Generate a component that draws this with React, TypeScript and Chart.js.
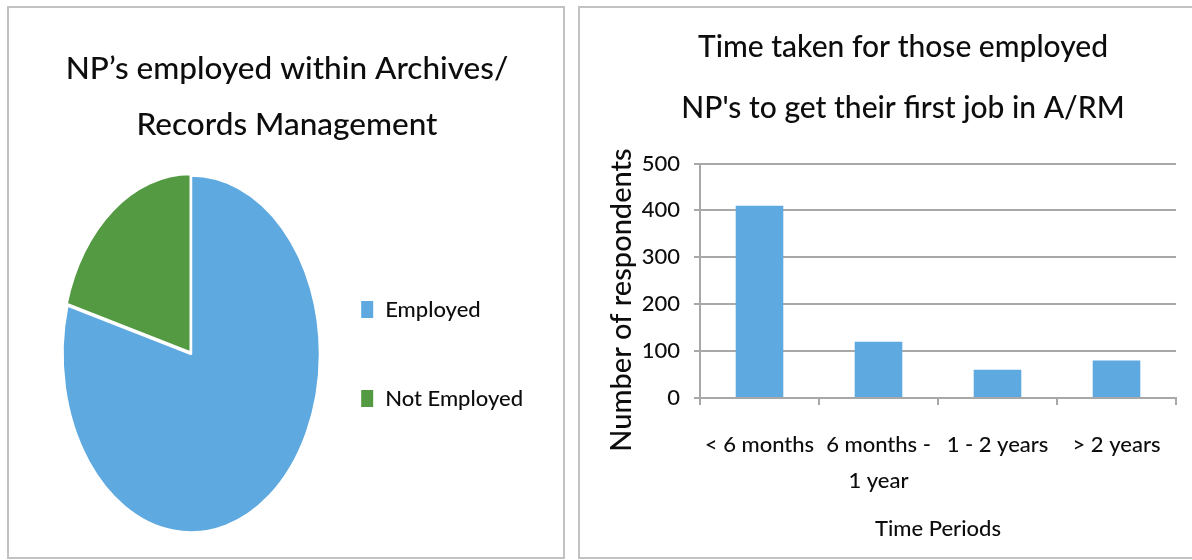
import React, { useEffect, useRef } from "react";
import { Chart, registerables } from "chart.js";

Chart.register(...registerables);

const FONT = "Lato, 'Open Sans', sans-serif";
const WEIGHT = "500";
const TEXT = "#0d0d0d";
const BLUE = "#5ea9e0";
const GREEN = "#539a43";
const GRID = "#a8a8a8";

// Left chart data
const pieTitle = ["NP’s employed within Archives/", "Records Management"];
const pieLabels = ["Employed", "Not Employed"];
const pieValues = [670, 174];
const pieColors = [BLUE, GREEN];
const pieOffsets = [0, 5];

// Right chart data
const barTitle = ["Time taken for those employed", "NP's to get their first job in A/RM"];
const barCategories = [["< 6 months"], ["6 months -", "1 year"], ["1 - 2 years"], ["> 2 years"]];
const barValues = [410, 120, 60, 80];
const yMin = 0;
const yMax = 500;
const yStep = 100;
const yAxisTitle = "Number of respondents";
const xAxisTitle = "Time Periods";

// Draws the pie in an elliptical (vertically stretched) form, as in the reference.
const stretchPlugin = {
  id: "stretchY",
  beforeDatasetsDraw(chart: any, _args: any, opts: any) {
    const arc = chart.getDatasetMeta(0).data[0];
    const ctx = chart.ctx;
    ctx.save();
    if (!arc) return;
    ctx.translate(arc.x, arc.y);
    ctx.scale(1, opts.factor || 1);
    ctx.translate(-arc.x, -arc.y);
  },
  afterDatasetsDraw(chart: any) {
    chart.ctx.restore();
  },
};

// Draws a block of text lines (optionally rotated) at a given position.
const textBlockPlugin = {
  id: "textBlock",
  afterDraw(chart: any, _args: any, opts: any) {
    if (!opts || !opts.lines) return;
    const ctx = chart.ctx;
    ctx.save();
    ctx.translate(opts.x, opts.y);
    if (opts.rotate) ctx.rotate(opts.rotate);
    ctx.font = `${WEIGHT} ${opts.size}px ${FONT}`;
    ctx.fillStyle = TEXT;
    ctx.textAlign = "center";
    ctx.textBaseline = "middle";
    opts.lines.forEach((line: string, i: number) => {
      ctx.fillText(line, 0, i * (opts.lineHeight || 0));
    });
    ctx.restore();
  },
};

export default function App() {
  const pieRef = useRef<HTMLCanvasElement>(null);
  const barRef = useRef<HTMLCanvasElement>(null);

  useEffect(() => {
    const pie = new Chart(pieRef.current as HTMLCanvasElement, {
      type: "pie",
      data: {
        labels: pieLabels,
        datasets: [
          {
            data: pieValues,
            backgroundColor: pieColors,
            borderColor: "#ffffff",
            borderWidth: 2,
            offset: pieOffsets,
            radius: 128.5,
            clip: false,
          } as any,
        ],
      },
      options: {
        responsive: false,
        animation: false,
        layout: { padding: { left: 80.3, right: 30, top: 143, bottom: 0 } },
        plugins: {
          title: { display: false },
          legend: {
            position: "right",
            maxWidth: 249.3,
            labels: {
              boxWidth: 14,
              boxHeight: 19,
              padding: 67,
              color: TEXT,
              font: { family: FONT, size: 22, weight: WEIGHT },
            },
          },
          tooltip: { enabled: false },
          stretchY: { factor: 1.39 },
          textBlock: { lines: pieTitle, x: 278, y: 60.5, lineHeight: 56, size: 31.5 },
        } as any,
      },
      plugins: [stretchPlugin, textBlockPlugin],
    });

    const bar = new Chart(barRef.current as HTMLCanvasElement, {
      type: "bar",
      data: {
        labels: barCategories,
        datasets: [
          {
            data: barValues,
            backgroundColor: BLUE,
            barPercentage: 0.4,
            categoryPercentage: 1,
          },
        ],
      },
      options: {
        responsive: false,
        animation: false,
        layout: { padding: { left: 50, right: 16, top: 0, bottom: 0 } },
        plugins: {
          legend: { display: false },
          tooltip: { enabled: false },
          title: {
            display: true,
            text: barTitle,
            color: TEXT,
            font: { family: FONT, size: 30, weight: WEIGHT, lineHeight: 60.5 / 30 },
            padding: { top: 9.25, bottom: 25.25 },
          },
          textBlock: {
            lines: [yAxisTitle],
            x: 41.7,
            y: 292,
            rotate: -Math.PI / 2,
            size: 29,
          },
        } as any,
        scales: {
          x: {
            grid: {
              display: true,
              drawOnChartArea: false,
              drawTicks: true,
              tickLength: 7,
              color: GRID,
              lineWidth: 2,
              offset: true,
            },
            border: { display: true, color: GRID, width: 2 },
            ticks: {
              color: TEXT,
              font: { family: FONT, size: 22, weight: WEIGHT, lineHeight: 36 / 22 },
              padding: 22,
              maxRotation: 0,
              autoSkip: false,
            },
            title: {
              display: true,
              text: xAxisTitle,
              color: TEXT,
              font: { family: FONT, size: 22, weight: WEIGHT },
              padding: { top: 16.8, bottom: 14.8 },
            },
            afterFit: (s: any) => {
              s.height = 159;
            },
          },
          y: {
            min: yMin,
            max: yMax,
            ticks: {
              stepSize: yStep,
              color: TEXT,
              font: { family: FONT, size: 22, weight: WEIGHT },
              padding: 14,
            },
            grid: { color: GRID, lineWidth: 2, tickLength: 6 },
            border: { display: true, color: GRID, width: 2 },
            afterFit: (s: any) => {
              s.width = 70;
            },
          },
        },
      },
      plugins: [textBlockPlugin],
    });

    return () => {
      pie.destroy();
      bar.destroy();
    };
  }, []);

  return (
    <div
      style={{
        position: "absolute",
        left: 0,
        top: 0,
        width: 1192,
        height: 560,
        overflow: "hidden",
        background: "#ffffff",
      }}
    >
      <div
        style={{
          position: "absolute",
          left: 7,
          top: 6,
          width: 558,
          height: 553,
          border: "2px solid #c2c2c2",
          boxSizing: "border-box",
        }}
      >
        <canvas ref={pieRef} width={554} height={549} style={{ display: "block" }} />
      </div>
      <div
        style={{
          position: "absolute",
          left: 578,
          top: 6,
          width: 618,
          height: 553,
          border: "2px solid #c2c2c2",
          boxSizing: "border-box",
        }}
      >
        <canvas ref={barRef} width={612} height={549} style={{ display: "block" }} />
      </div>
    </div>
  );
}
